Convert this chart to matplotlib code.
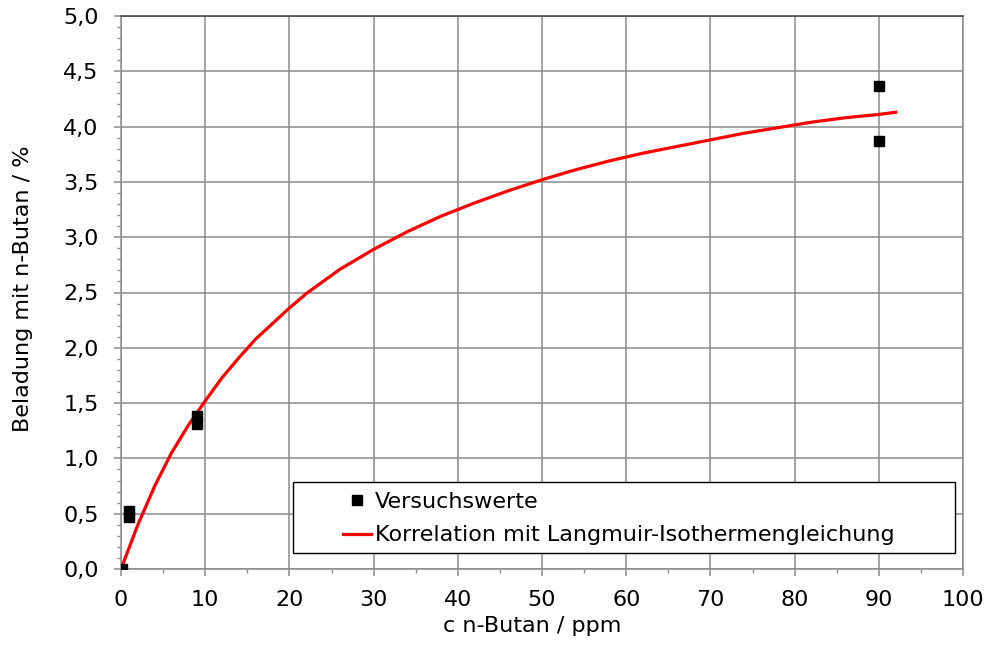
import numpy as np
import matplotlib.pyplot as plt
from matplotlib.ticker import MultipleLocator, FuncFormatter
from matplotlib.patches import Rectangle

plt.rcParams['font.family'] = ['DejaVu Sans']
fs = 16

# Messwerte
c_mess = [0.1, 1, 1, 9, 9, 90, 90]
q_mess = [0.0, 0.52, 0.47, 1.38, 1.31, 4.37, 3.87]

# Langmuir-Korrelation (Stuetzstellen)
c_fit = [0, 2, 4, 6, 8, 10, 12, 14, 16, 18, 20, 22, 24, 26, 28, 30, 34, 38,
         42, 46, 50, 54, 58, 62, 66, 70, 74, 78, 82, 86, 90, 92]
q_fit = [0.00, 0.40, 0.75, 1.05, 1.30, 1.52, 1.73, 1.91, 2.08, 2.22, 2.36,
         2.49, 2.60, 2.71, 2.80, 2.89, 3.05, 3.19, 3.31, 3.42, 3.52, 3.61,
         3.69, 3.76, 3.82, 3.88, 3.94, 3.99, 4.04, 4.08, 4.11, 4.13]

grau = '#8c8c8c'

fig = plt.figure(figsize=(9.86, 6.52), dpi=100)
ax = fig.add_axes([121/986, 1 - 569/652, 842/986, 553/652])

ax.plot(c_fit, q_fit, color='#ff0000', lw=2.3, zorder=3,
        label='Korrelation mit Langmuir-Isothermengleichung')
ax.plot(c_mess, q_mess, ls='none', marker='s', ms=7.5, color='black',
        zorder=4, label='Versuchswerte')

ax.set_xlim(0, 100)
ax.set_ylim(0, 5)
ax.xaxis.set_major_locator(MultipleLocator(10))
ax.xaxis.set_minor_locator(MultipleLocator(5))
ax.yaxis.set_major_locator(MultipleLocator(0.5))
ax.yaxis.set_minor_locator(MultipleLocator(0.1))
ax.yaxis.set_major_formatter(FuncFormatter(lambda v, p: f'{v:.1f}'.replace('.', ',')))

ax.grid(True, which='major', color=grau, lw=1.1)
ax.set_axisbelow(True)
for s in ax.spines.values():
    s.set_color(grau)
    s.set_linewidth(1.1)
ax.spines['top'].set_color('#404040')
ax.tick_params(which='major', direction='out', length=5, width=1.1,
               color=grau, labelsize=fs)
ax.tick_params(which='minor', direction='out', length=3, width=1.0, color=grau)
ax.tick_params(axis='x', which='major', pad=10)
ax.tick_params(axis='y', which='major', pad=11)

ax.set_xlabel('c n-Butan / ppm', fontsize=fs)
ax.set_ylabel('Beladung mit n-Butan / %', fontsize=fs)
ax.xaxis.set_label_coords(0.488, -0.085)
ax.yaxis.set_label_coords(-0.105, 0.506)

# Legendenrahmen
ax.add_patch(Rectangle(((293 - 121) / 842, (569 - 553) / 553),
                       (955 - 293) / 842, (553 - 482) / 553,
                       transform=ax.transAxes, fill=True, facecolor='white',
                       edgecolor='black', lw=1.0, zorder=5))
h, l = ax.get_legend_handles_labels()
leg = ax.legend(h[::-1], l[::-1], loc='upper left',
                bbox_to_anchor=((343 - 121) / 842, (569 - 492) / 553),
                frameon=False, fontsize=fs, handlelength=1.26,
                handletextpad=0.16, labelspacing=0.6, borderpad=0,
                borderaxespad=0)
leg.set_zorder(6)

fig.savefig('out.png', dpi=100)
